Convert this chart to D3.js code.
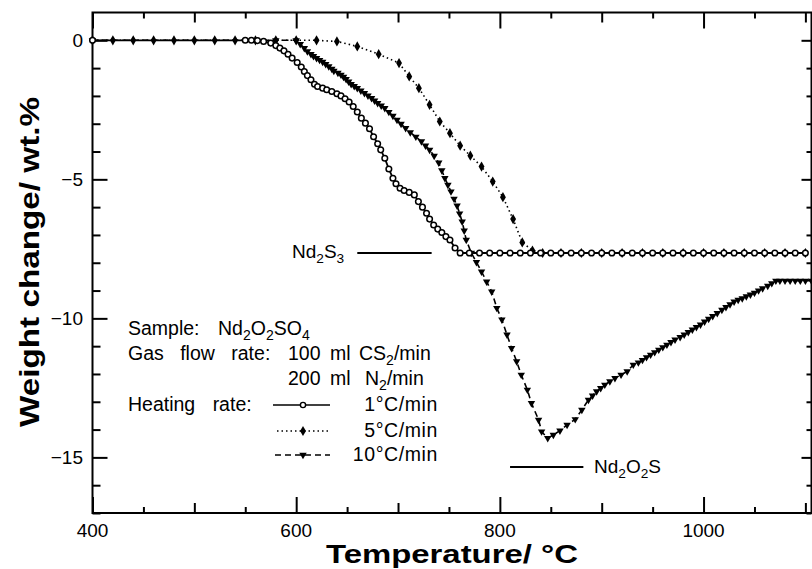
<!DOCTYPE html>
<html>
<head>
<meta charset="utf-8">
<script src="https://cdn.jsdelivr.net/npm/d3@7"></script>
<style>
  html, body { margin: 0; padding: 0; background: #fff; }
  svg { display: block; }
  text { font-family: "Liberation Sans", Arial, Helvetica, sans-serif; fill: #000; }
</style>
</head>
<body>
<svg id="chart" width="812" height="569"></svg>
<script>
// ---------------- DATA ----------------
const tempTicks = [400, 600, 800, 1000];
const weightTicks = [0, -5, -10, -15];
const seriesLabels = ["1", "5", "10"]; // °C/min

// 1 °C/min  [temperature °C, weight change wt.%]
const rate1 = [
  [400, 0], [550, 0], [556, 0], [562, -0.01], [568, -0.04], [575, -0.10], [580, -0.19],
  [584, -0.28], [588, -0.38], [592, -0.50], [596, -0.64], [601, -0.80], [605, -0.96],
  [608, -1.12], [611, -1.27], [614.5, -1.42], [618, -1.58], [621, -1.66], [626, -1.72],
  [630, -1.78], [635, -1.84], [640, -1.92], [644, -2.00], [648, -2.10], [652, -2.22],
  [656, -2.38], [660, -2.58], [664, -2.80], [668, -2.98], [672, -3.18], [676, -3.47],
  [680, -3.72], [683, -3.94], [687, -4.24], [691, -4.63], [695, -4.96], [698, -5.16],
  [702, -5.32], [706, -5.40], [711, -5.47], [716, -5.56], [720, -5.80], [724, -6.00],
  [728, -6.22], [731, -6.43], [735, -6.64], [739, -6.79], [743, -6.91], [747, -7.06],
  [751, -7.18], [756, -7.47], [761, -7.65], [770, -7.65], [780, -7.65], [790, -7.65],
  [800, -7.65], [810, -7.65], [820, -7.65], [830, -7.65], [840, -7.65], [850, -7.65],
  [860, -7.65], [870, -7.65], [880, -7.65], [890, -7.65], [900, -7.65], [910, -7.65],
  [920, -7.65], [930, -7.65], [940, -7.65], [950, -7.65], [960, -7.65], [970, -7.65],
  [980, -7.65], [990, -7.65], [1000, -7.65], [1010, -7.65], [1020, -7.65], [1030, -7.65],
  [1040, -7.65], [1050, -7.65], [1060, -7.65], [1070, -7.65], [1080, -7.65], [1090, -7.65],
  [1100, -7.65]
];

// 5 °C/min
const rate5 = [
  [400, 0], [420, 0], [440, 0], [460, 0], [480, 0], [500, 0], [520, 0], [540, 0],
  [560, 0], [580, 0], [600, 0], [620, 0], [640, -0.04], [660, -0.22], [681, -0.50],
  [701, -0.82], [711, -1.30], [720.5, -1.72], [731, -2.32], [741, -2.92], [751, -3.34],
  [761, -3.79], [771, -4.15], [782, -4.54], [793, -5.08], [803, -5.64], [813, -6.43],
  [822, -7.27], [832, -7.56], [842, -7.65], [860, -7.65], [880, -7.65], [900, -7.65],
  [920, -7.65], [940, -7.65], [960, -7.65], [980, -7.65], [1000, -7.65], [1020, -7.65],
  [1040, -7.65], [1060, -7.65], [1080, -7.65], [1100, -7.65]
];

// 10 °C/min
const rate10 = [
  [400, 0], [560, 0], [580, 0], [600, 0], [604, -0.14], [608, -0.28], [611, -0.40],
  [614.5, -0.50], [617, -0.57], [620, -0.64], [623, -0.71], [626, -0.78], [629, -0.86],
  [632, -0.94], [635, -1.03], [637, -1.10], [641, -1.17], [644, -1.24], [646.5, -1.32],
  [649, -1.40], [651.5, -1.49], [654, -1.58], [657, -1.65], [660, -1.72], [663.5, -1.81],
  [667, -1.90], [670.5, -1.99], [674, -2.08], [677, -2.17], [680, -2.26], [683.5, -2.35],
  [687, -2.44], [691, -2.58], [695, -2.72], [699, -2.86], [703, -3.01], [707.5, -3.16],
  [712, -3.31], [717.5, -3.47], [723, -3.64], [727, -3.79], [731, -3.94], [735.5, -4.16],
  [740, -4.40], [743, -4.68], [746, -4.96], [749, -5.20], [752, -5.44], [755, -5.70],
  [758, -5.95], [760.5, -6.23], [763, -6.52], [765, -6.85], [767, -7.18], [772, -7.65],
  [777, -7.98], [782, -8.32], [787, -8.68], [792, -9.04], [797, -9.63], [802, -10.05],
  [807, -10.59], [811.5, -11.07], [816.5, -11.55], [821, -12.03], [827, -12.57], [831, -13.05],
  [838, -13.65], [841, -14.07], [847, -14.31], [852.5, -14.19], [859, -14.04], [866, -13.83],
  [874, -13.63], [880.5, -13.29], [887, -12.93], [891, -12.78], [895, -12.63], [899, -12.51],
  [903, -12.39], [908, -12.27], [913, -12.15], [919, -12.03], [925, -11.91], [931, -11.67],
  [936, -11.59], [940, -11.50], [944, -11.40], [948, -11.31], [952, -11.22], [956, -11.13],
  [960, -11.04], [964, -10.95], [968, -10.86], [972, -10.77], [977, -10.68], [981, -10.59],
  [985, -10.50], [989, -10.41], [993, -10.32], [997, -10.23], [1001, -10.12], [1005, -10.02],
  [1009, -9.92], [1013.5, -9.81], [1018, -9.70], [1022, -9.60], [1026, -9.50], [1030, -9.40],
  [1034, -9.34], [1038, -9.28], [1042, -9.21], [1046, -9.15], [1050, -9.08], [1054, -9.00],
  [1058, -8.92], [1063, -8.83], [1067, -8.74], [1071, -8.65], [1075, -8.65], [1080, -8.65],
  [1085, -8.65], [1090, -8.65], [1095, -8.65], [1100, -8.65], [1106, -8.65]
];

// reference product levels (wt.%) and their marker extents (°C)
const nd2s3Level = -7.65, nd2s3Span = [660, 733];
const nd2o2sLevel = -15.35, nd2o2sSpan = [810, 882];

// ---------------- LAYOUT ----------------
const svg = d3.select("#chart");
const L = 92.5, R = 811.5, T = 12.5, B = 513;
const x = d3.scaleLinear().domain([400, 1106]).range([L, R]);
const y = d3.scaleLinear().domain([1, -17]).range([T, B]);

// frame
svg.append("rect").attr("x", L).attr("y", T).attr("width", R - L).attr("height", B - T)
  .attr("fill", "none").attr("stroke", "#000").attr("stroke-width", 2);

// ticks (inward) using axis generators
function tickLen(v, major, mid) { return v % major === 0 ? 16 : (v % mid === 0 ? 10 : 6); }
const xMinor = d3.range(400, 1101, 50);
const yMinor = d3.range(0, -18, -1);

const gx = svg.append("g").attr("transform", `translate(0,${B})`)
  .call(d3.axisTop(x).tickValues(xMinor).tickFormat(""));
gx.select(".domain").remove();
gx.selectAll(".tick line").attr("y2", d => -tickLen(d, 200, 100)).attr("stroke-width", 2);

const gxt = svg.append("g").attr("transform", `translate(0,${T})`)
  .call(d3.axisBottom(x).tickValues(xMinor).tickFormat(""));
gxt.select(".domain").remove();
gxt.selectAll(".tick line").attr("y2", d => tickLen(d, 200, 100)).attr("stroke-width", 2);

const gy = svg.append("g").attr("transform", `translate(${L},0)`)
  .call(d3.axisRight(y).tickValues(yMinor).tickFormat(""));
gy.select(".domain").remove();
gy.selectAll(".tick line").attr("x2", d => (d % 5 === 0 ? 15 : 8)).attr("stroke-width", 2);

const gyr = svg.append("g").attr("transform", `translate(${R},0)`)
  .call(d3.axisLeft(y).tickValues(yMinor).tickFormat(""));
gyr.select(".domain").remove();
gyr.selectAll(".tick line").attr("x2", d => (d % 5 === 0 ? -10 : -5)).attr("stroke-width", 2);

// tick labels
svg.append("g").selectAll("text").data(tempTicks).join("text")
  .attr("x", d => x(d)).attr("y", 537).attr("text-anchor", "middle")
  .attr("font-size", 19).text(d => d);
svg.append("g").selectAll("text").data(weightTicks).join("text")
  .attr("x", 83).attr("y", d => y(d) + 7).attr("text-anchor", "end")
  .attr("font-size", 19).text(d => d === 0 ? "0" : "\u2212" + Math.abs(d));

// axis titles
svg.append("text").attr("x", (L + R) / 2).attr("y", 563).attr("text-anchor", "middle")
  .attr("font-size", 26).attr("font-weight", "bold")
  .attr("textLength", 252).attr("lengthAdjust", "spacingAndGlyphs")
  .text("Temperature/ \u00B0C");
svg.append("text").attr("transform", "translate(39,262) rotate(-90)")
  .attr("text-anchor", "middle").attr("font-size", 27).attr("font-weight", "bold")
  .attr("textLength", 330).attr("lengthAdjust", "spacingAndGlyphs")
  .text("Weight change/ wt.%");

// ---------------- SERIES ----------------
const line = d3.line().x(d => x(d[0])).y(d => y(d[1]));
const plot = svg.append("g");

// 10 °C/min dashed, down triangles
plot.append("path").datum(rate10).attr("d", line).attr("fill", "none")
  .attr("stroke", "#000").attr("stroke-width", 1.6).attr("stroke-dasharray", "6,4");
const tri = d3.symbol().type(d3.symbolTriangle).size(24);
plot.append("g").selectAll("path").data(rate10).join("path")
  .attr("d", tri).attr("transform", d => `translate(${x(d[0])},${y(d[1])}) rotate(180)`)
  .attr("fill", "#000");

// 5 °C/min dotted, filled diamonds
plot.append("path").datum(rate5).attr("d", line).attr("fill", "none")
  .attr("stroke", "#000").attr("stroke-width", 1.6).attr("stroke-dasharray", "1.5,3");
const dia = d3.symbol().type(d3.symbolDiamond).size(30);
plot.append("g").selectAll("path").data(rate5).join("path")
  .attr("d", dia).attr("transform", d => `translate(${x(d[0])},${y(d[1])})`)
  .attr("fill", "#000");

// 1 °C/min solid, open circles
plot.append("path").datum(rate1).attr("d", line).attr("fill", "none")
  .attr("stroke", "#000").attr("stroke-width", 1.8);
plot.append("g").selectAll("circle").data(rate1).join("circle")
  .attr("cx", d => x(d[0])).attr("cy", d => y(d[1])).attr("r", 2.8)
  .attr("fill", "#fff").attr("stroke", "#000").attr("stroke-width", 1.5);

// ---------------- ANNOTATIONS ----------------
// chemical formula: parts = [text, isSubscript]
function chem(sel, parts) {
  let prevSub = false;
  parts.forEach(([t, sub]) => {
    const ts = sel.append("tspan").text(t);
    if (sub) { ts.attr("font-size", "0.72em").attr("dy", prevSub ? 0 : 5); }
    else if (prevSub) { ts.attr("dy", -5); }
    prevSub = sub;
  });
  return sel;
}

svg.append("line").attr("x1", x(nd2s3Span[0])).attr("x2", x(nd2s3Span[1]))
  .attr("y1", y(nd2s3Level)).attr("y2", y(nd2s3Level)).attr("stroke", "#000").attr("stroke-width", 2);
chem(svg.append("text").attr("x", 292).attr("y", 258).attr("font-size", 19),
  [["Nd", false], ["2", true], ["S", false], ["3", true]]);

svg.append("line").attr("x1", x(nd2o2sSpan[0])).attr("x2", x(nd2o2sSpan[1]))
  .attr("y1", y(nd2o2sLevel)).attr("y2", y(nd2o2sLevel)).attr("stroke", "#000").attr("stroke-width", 2);
chem(svg.append("text").attr("x", 594).attr("y", 473).attr("font-size", 19),
  [["Nd", false], ["2", true], ["O", false], ["2", true], ["S", false]]);

// legend block
const lg = svg.append("g");
const fs = 19.5;
lg.append("text").attr("x", 128).attr("y", 335).attr("font-size", fs).text("Sample:");
chem(lg.append("text").attr("x", 218).attr("y", 335).attr("font-size", fs),
  [["Nd", false], ["2", true], ["O", false], ["2", true], ["SO", false], ["4", true]]);
lg.append("text").attr("x", 128).attr("y", 360).attr("font-size", fs).attr("word-spacing", 11)
  .text("Gas flow rate:");
lg.append("text").attr("x", 288).attr("y", 360).attr("font-size", fs).text("100");
lg.append("text").attr("x", 330).attr("y", 360).attr("font-size", fs).text("ml");
chem(lg.append("text").attr("x", 359).attr("y", 360).attr("font-size", fs),
  [["CS", false], ["2", true], ["/min", false]]);
lg.append("text").attr("x", 288).attr("y", 385).attr("font-size", fs).text("200");
lg.append("text").attr("x", 330).attr("y", 385).attr("font-size", fs).text("ml");
chem(lg.append("text").attr("x", 365).attr("y", 385).attr("font-size", fs),
  [["N", false], ["2", true], ["/min", false]]);
lg.append("text").attr("x", 128).attr("y", 411).attr("font-size", fs).attr("word-spacing", 12)
  .text("Heating rate:");

const legendRows = [
  { y: 405, dash: null, marker: "circle", x1: 273 },
  { y: 431, dash: "1.5,3", marker: "diamond", x1: 277 },
  { y: 455, dash: "6,4", marker: "tri", x1: 275 }
];
legendRows.forEach((r, i) => {
  lg.append("line").attr("x1", r.x1).attr("x2", 330).attr("y1", r.y).attr("y2", r.y)
    .attr("stroke", "#000").attr("stroke-width", 1.6)
    .attr("stroke-dasharray", r.dash);
  if (r.marker === "circle")
    lg.append("circle").attr("cx", 303).attr("cy", r.y).attr("r", 2.6)
      .attr("fill", "#fff").attr("stroke", "#000").attr("stroke-width", 1.4);
  else if (r.marker === "diamond")
    lg.append("path").attr("d", dia).attr("transform", `translate(303,${r.y})`).attr("fill", "#000");
  else
    lg.append("path").attr("d", tri).attr("transform", `translate(303,${r.y}) rotate(180)`).attr("fill", "#000");
  lg.append("text").attr("x", 438).attr("y", r.y + 6).attr("text-anchor", "end")
    .attr("font-size", fs).attr("letter-spacing", 0.6).text(seriesLabels[i] + "\u00B0C/min");
});
</script>
</body>
</html>
